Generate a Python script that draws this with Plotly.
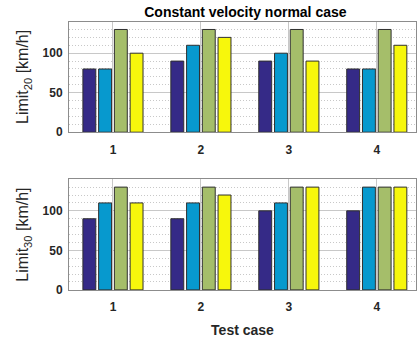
import plotly.graph_objects as go

cases = [1, 2, 3, 4]
series_names = ["S1", "S2", "S3", "S4"]
colors = ["#352A87", "#0799CE", "#A5BE6A", "#F7F70C"]

limit20 = [
    [80, 90, 90, 80],
    [80, 110, 100, 80],
    [130, 130, 130, 130],
    [100, 120, 90, 110],
]
limit30 = [
    [90, 90, 100, 100],
    [110, 110, 110, 130],
    [130, 130, 130, 130],
    [110, 120, 130, 130],
]

title_text = "Constant velocity normal case"
ytitle20 = "Limit<sub>20</sub> [km/h]"
ytitle30 = "Limit<sub>30</sub> [km/h]"
xtitle = "Test case"

FONT = "Liberation Sans, Arial, sans-serif"

fig = go.Figure()
for i in range(4):
    fig.add_trace(go.Bar(x=cases, y=limit20[i], name=series_names[i],
                         marker=dict(color=colors[i], line=dict(color="#303030", width=1)),
                         xaxis="x", yaxis="y", showlegend=False))
for i in range(4):
    fig.add_trace(go.Bar(x=cases, y=limit30[i], name=series_names[i],
                         marker=dict(color=colors[i], line=dict(color="#303030", width=1)),
                         xaxis="x2", yaxis="y2", showlegend=False))

xcommon = dict(range=[0.5, 4.446], tickvals=cases, ticktext=[f"<b>{c}</b>" for c in cases],
               showgrid=True, gridcolor="#C8C8C8", gridwidth=1,
               showline=True, linecolor="#8C8C8C", linewidth=1, mirror=True,
               ticks="outside", ticklen=6, tickcolor="rgba(0,0,0,0)",
               tickfont=dict(family=FONT, size=12, color="#262626"),
               zeroline=False, fixedrange=True)
ycommon = dict(range=[0, 140], tickvals=[0, 50, 100], ticktext=["<b>0</b>", "<b>50</b>", "<b>100</b>"],
               showgrid=True, gridcolor="#C8C8C8", gridwidth=1,
               minor=dict(dtick=10, tick0=0, showgrid=True, gridcolor="#C8C8C8", griddash="1px,2px", gridwidth=1),
               showline=True, linecolor="#8C8C8C", linewidth=1, mirror=True,
               ticks="outside", ticklen=3, tickcolor="rgba(0,0,0,0)",
               tickfont=dict(family=FONT, size=12, color="#262626"),
               zeroline=False, fixedrange=True)

ytfont = dict(family=FONT, size=16, color="#262626")

fig.update_layout(
    width=417, height=339,
    margin=dict(l=69, r=0, t=0, b=0),
    paper_bgcolor="white", plot_bgcolor="white",
    barmode="group", bargap=0.284, bargroupgap=0.18,
    font=dict(family=FONT, color="#262626"),
    title=dict(text=f"<b>{title_text}</b>", x=0.5885, xanchor="center", y=1 - 12 / 339, yanchor="middle",
               font=dict(family=FONT, size=14, color="black")),
    xaxis=dict(domain=[0, 1], anchor="y", **xcommon),
    yaxis=dict(domain=[0.6018, 0.935], anchor="x",
               title=dict(text=ytitle20, font=ytfont, standoff=9),
               **ycommon),
    xaxis2=dict(domain=[0, 1], anchor="y2",
                title=dict(text=f"<b>{xtitle}</b>", font=dict(family=FONT, size=14, color="#262626"), standoff=11),
                **xcommon),
    yaxis2=dict(domain=[0.1268, 0.4602], anchor="x2",
                title=dict(text=ytitle30, font=ytfont, standoff=9),
                **ycommon),
)

fig.write_html("out.html")
